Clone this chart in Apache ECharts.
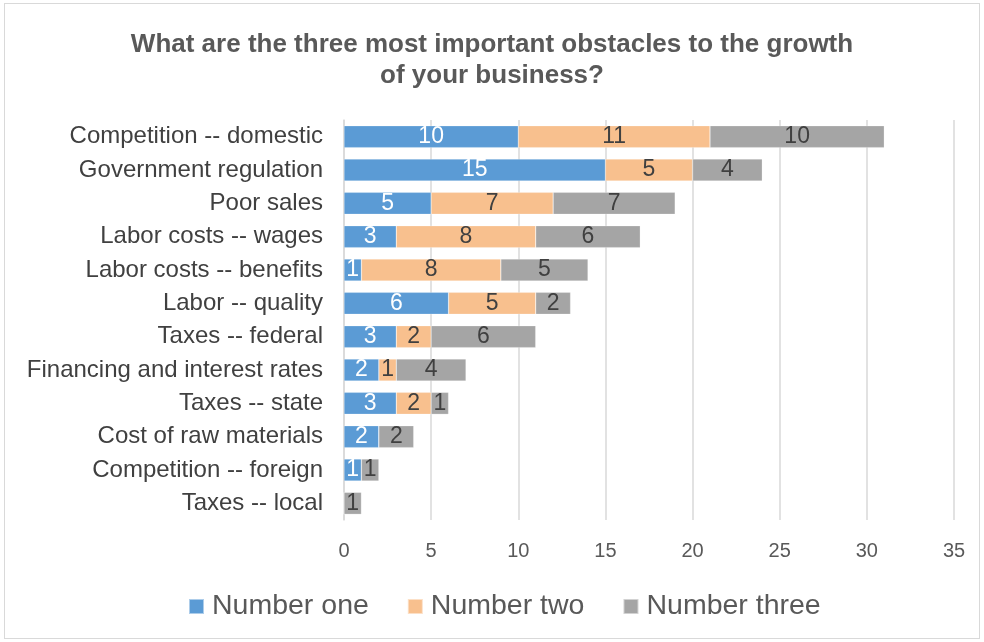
<!DOCTYPE html>
<html>
<head>
<meta charset="utf-8">
<script src="https://cdn.jsdelivr.net/npm/echarts@6/dist/echarts.min.js"></script>
<style>
html,body{margin:0;padding:0;background:#fff;}
#wrap{position:absolute;left:4px;top:3px;width:976px;height:636px;border:1px solid #d9d9d9;box-sizing:border-box;}
#chart{position:absolute;left:0;top:0;width:984px;height:642px;}
</style>
</head>
<body>
<div id="wrap"></div>
<div id="chart"></div>
<script>
const categories = [
  "Competition -- domestic",
  "Government regulation",
  "Poor sales",
  "Labor costs -- wages",
  "Labor costs -- benefits",
  "Labor -- quality",
  "Taxes -- federal",
  "Financing and interest rates",
  "Taxes -- state",
  "Cost of raw materials",
  "Competition -- foreign",
  "Taxes -- local"
];
const numberOne   = [10, 15, 5, 3, 1, 6, 3, 2, 3, 2, 1, 0];
const numberTwo   = [11, 5, 7, 8, 8, 5, 2, 1, 2, 0, 0, 0];
const numberThree = [10, 4, 7, 6, 5, 2, 6, 4, 1, 2, 1, 1];
const seriesNames = ["Number one", "Number two", "Number three"];
const xTicks = [0, 5, 10, 15, 20, 25, 30, 35];

const colors = ["#5B9BD5", "#F8C08E", "#A5A5A5"];
const labelColors = ["#ffffff", "#404040", "#404040"];
const FONT = "Liberation Sans, Arial, sans-serif";

const chart = echarts.init(document.getElementById('chart'), null, {renderer: 'canvas'});
const mk = (name, data, i) => ({
  name: name,
  type: 'bar',
  stack: 'total',
  data: data,
  barCategoryGap: '34%',
  itemStyle: {color: colors[i], borderColor: 'rgba(255,255,255,0.5)', borderWidth: 0.5},
  label: {
    show: true,
    position: 'inside',
    color: labelColors[i],
    fontSize: 23,
    fontFamily: FONT,
    formatter: p => (p.value ? String(p.value) : '')
  },
  emphasis: {disabled: true}
});

chart.setOption({
  animation: false,
  textStyle: {fontFamily: FONT},
  title: {
    text: "What are the three most important obstacles to the growth\nof your business?",
    left: 'center',
    top: 24,
    textStyle: {fontSize: 26, fontWeight: 'bold', color: '#595959', lineHeight: 31, fontFamily: FONT}
  },
  legend: {
    data: seriesNames,
    top: 587,
    left: 183,
    itemWidth: 15,
    itemHeight: 15,
    itemGap: 38,
    icon: 'rect',
    textStyle: {fontSize: 28.5, color: '#595959', fontFamily: FONT, padding: [0, 0, 0, 3]}
  },
  grid: {left: 344, right: 30, top: 120, bottom: 122, containLabel: false},
  xAxis: {
    type: 'value',
    min: 0,
    max: 35,
    interval: 5,
    axisLine: {show: false},
    axisTick: {show: false},
    splitLine: {lineStyle: {color: '#d9d9d9', width: 1.5}},
    axisLabel: {color: '#595959', fontSize: 20, margin: 21, fontFamily: FONT,
      formatter: v => xTicks.includes(v) ? String(v) : ''}
  },
  yAxis: {
    type: 'category',
    data: categories,
    inverse: true,
    axisLine: {show: true, lineStyle: {color: '#d9d9d9', width: 1.5}},
    axisTick: {show: false},
    axisLabel: {color: '#404040', fontSize: 24, margin: 21, fontFamily: FONT}
  },
  series: [
    mk(seriesNames[0], numberOne, 0),
    mk(seriesNames[1], numberTwo, 1),
    mk(seriesNames[2], numberThree, 2)
  ]
});
</script>
</body>
</html>
